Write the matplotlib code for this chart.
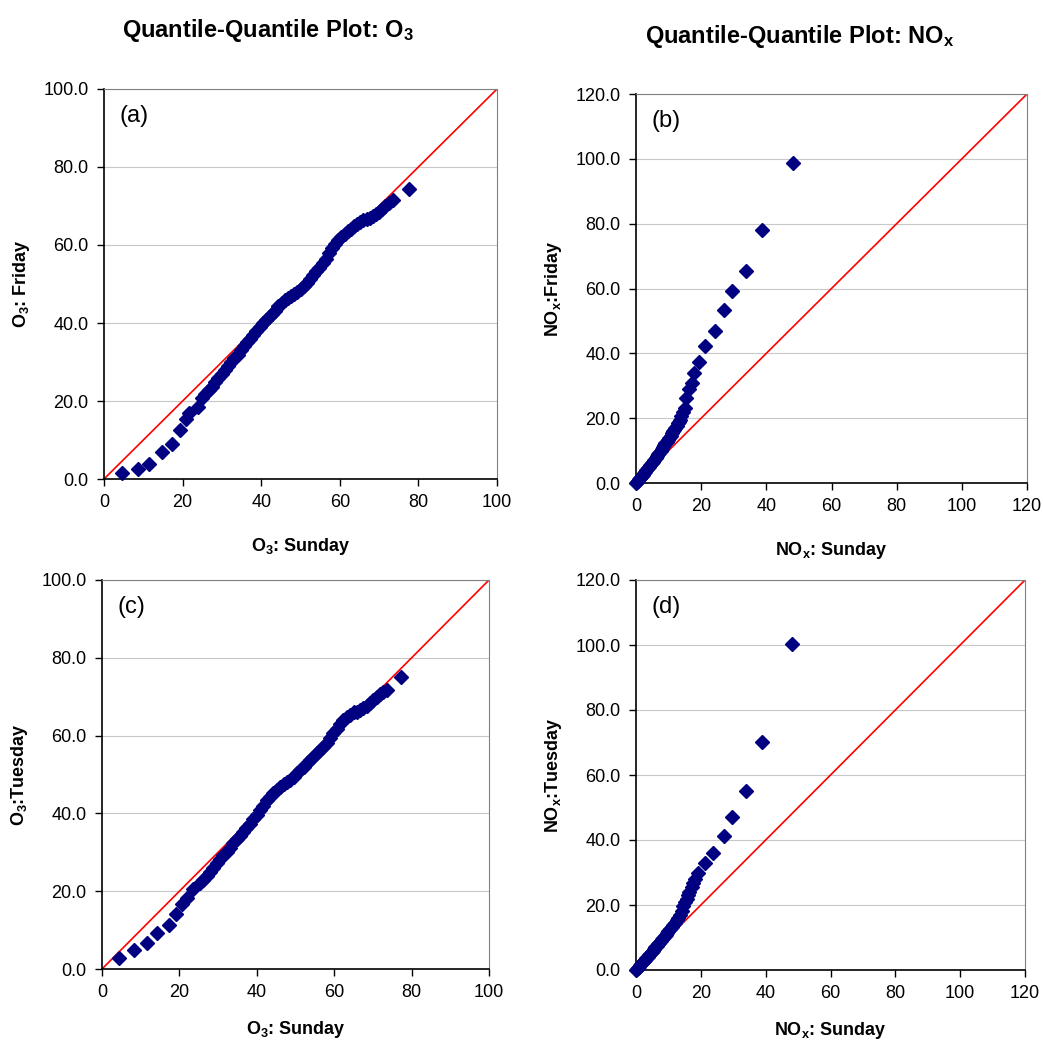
import matplotlib
matplotlib.use('Agg')
import matplotlib.pyplot as plt

plt.rcParams['font.family'] = ['Liberation Sans', 'DejaVu Sans']
plt.rcParams['mathtext.fontset'] = 'custom'
plt.rcParams['mathtext.rm'] = 'Liberation Sans'
plt.rcParams['mathtext.bf'] = 'Liberation Sans:bold'
plt.rcParams['mathtext.default'] = 'bf'

# (a) O3 quantiles: Sunday vs Friday
o3_sun_a = [4.5, 8.6, 11.5, 14.7, 17.2, 19.3, 20.9, 21.7, 23.8, 24.9, 25.8, 26.7, 27.5, 28.3,
            29.1, 30.0, 30.8, 31.6, 32.4, 33.2, 34.0, 34.8, 35.6, 36.4, 37.2, 38.0, 38.8, 39.6,
            40.4, 41.2, 42.0, 42.8, 43.6, 44.4, 45.2, 46.0, 46.8, 47.6, 48.4, 49.2, 50.0, 50.8,
            51.6, 52.4, 53.2, 54.0, 54.8, 55.6, 56.4, 57.2, 58.0, 58.8, 59.6, 60.4, 61.2, 62.0,
            62.8, 63.6, 64.4, 65.2, 66.0, 66.8, 67.6, 68.4, 69.2, 70.0, 70.8, 71.6, 72.4, 73.6,
            77.7]
o3_fri_a = [1.5, 2.6, 3.8, 6.8, 9.0, 12.6, 15.3, 17.0, 18.5, 20.7, 21.8, 22.8, 23.7, 24.8,
            25.8, 26.9, 27.9, 28.9, 29.9, 30.9, 31.9, 33.0, 34.0, 35.0, 36.0, 37.0, 38.0, 39.0,
            40.0, 40.8, 41.5, 42.3, 43.2, 44.3, 45.2, 45.8, 46.3, 47.0, 47.5, 48.0, 48.6, 49.4,
            50.3, 51.3, 52.3, 53.3, 54.2, 55.3, 56.5, 57.9, 59.2, 60.3, 61.3, 62.1, 62.8, 63.5,
            64.2, 64.8, 65.4, 65.9, 66.3, 66.6, 66.9, 67.4, 67.9, 68.4, 69.2, 70.0, 70.8, 71.5,
            74.3]

# (b) NOx quantiles: Sunday vs Friday
nox_sun_b = [0.0, 0.3, 0.6, 0.9, 1.2, 1.5, 1.8, 2.1, 2.4, 2.8, 3.2, 3.6, 4.0, 4.4, 4.8, 5.2,
             5.6, 6.0, 6.4, 6.8, 7.2, 7.6, 7.9, 8.3, 8.7, 9.0, 9.4, 9.8, 10.2, 10.6, 11.0, 11.4,
             11.8, 12.1, 12.5, 12.9, 13.2, 13.5, 13.9, 14.3, 14.9, 15.3, 16.4, 17.1, 17.9, 19.4,
             21.1, 24.3, 27.0, 29.6, 33.7, 38.6, 48.3]
nox_fri_b = [0.0, 0.4, 0.7, 1.1, 1.5, 1.9, 2.2, 2.6, 3.0, 3.5, 4.0, 4.5, 5.0, 5.5, 6.1, 6.6,
             7.2, 7.7, 8.3, 8.8, 9.4, 10.0, 10.5, 11.1, 11.7, 12.2, 12.8, 13.4, 14.0, 14.6, 15.3,
             15.9, 16.5, 17.0, 17.7, 18.4, 18.9, 19.4, 20.6, 22.0, 23.0, 26.1, 28.9, 30.7, 33.8,
             37.2, 42.3, 47.0, 53.4, 59.1, 65.5, 78.0, 98.8]

# (c) O3 quantiles: Sunday vs Tuesday
o3_sun_c = [4.5, 8.3, 11.5, 14.3, 17.3, 19.1, 20.8, 21.9, 23.6, 25.3, 26.2, 27.1, 28.0, 28.8,
            29.6, 30.5, 31.3, 32.2, 33.0, 33.9, 34.8, 35.6, 36.5, 37.3, 38.2, 39.1, 40.0, 40.8,
            41.7, 42.6, 43.4, 44.3, 45.2, 46.0, 46.9, 47.7, 48.6, 49.5, 50.3, 51.2, 52.1, 53.0,
            53.8, 54.6, 55.5, 56.3, 57.2, 58.1, 58.9, 59.8, 60.6, 61.5, 62.4, 63.2, 64.1, 65.0,
            65.8, 66.7, 67.5, 68.4, 69.3, 70.1, 71.0, 71.9, 72.7, 73.6, 77.3]
o3_tue_c = [2.9, 4.9, 6.8, 9.2, 11.3, 14.1, 16.6, 18.3, 20.5, 22.0, 23.0, 24.0, 25.0, 26.0,
            27.2, 28.2, 29.2, 30.2, 31.2, 32.3, 33.3, 34.3, 35.3, 36.3, 37.4, 38.5, 39.6, 40.8,
            42.0, 43.4, 44.3, 45.2, 46.0, 46.8, 47.6, 48.2, 48.6, 49.4, 50.3, 51.2, 52.0, 52.9,
            53.8, 54.6, 55.5, 56.3, 57.1, 58.2, 59.4, 60.6, 61.7, 62.9, 64.0, 64.8, 65.4, 66.0,
            66.1, 66.5, 67.1, 67.7, 68.4, 69.1, 69.8, 70.6, 71.2, 71.7, 75.0]

# (d) NOx quantiles: Sunday vs Tuesday
nox_sun_d = [0.0, 0.3, 0.6, 0.9, 1.2, 1.5, 1.8, 2.1, 2.4, 2.8, 3.2, 3.6, 4.0, 4.4, 4.8, 5.2,
             5.6, 6.0, 6.4, 6.8, 7.2, 7.6, 8.0, 8.4, 8.8, 9.2, 9.6, 10.0, 10.5, 11.0, 11.5,
             12.0, 12.5, 13.0, 13.5, 14.1, 14.6, 15.1, 15.6, 16.0, 16.5, 17.2, 17.7, 18.2, 19.0,
             21.3, 23.8, 27.1, 29.7, 33.8, 38.8, 48.2]
nox_tue_d = [0.0, 0.3, 0.7, 1.0, 1.4, 1.7, 2.1, 2.4, 2.8, 3.2, 3.7, 4.1, 4.6, 5.0, 5.5, 6.0,
             6.5, 7.0, 7.4, 7.9, 8.4, 8.9, 9.4, 9.9, 10.4, 10.9, 11.4, 11.9, 12.6, 13.2, 13.9,
             14.6, 15.4, 16.1, 17.0, 18.3, 19.6, 21.0, 22.0, 23.0, 24.1, 25.4, 26.7, 28.0, 29.8,
             32.9, 36.0, 41.2, 47.0, 55.1, 70.3, 100.3]

W, H = 1043, 1044
fig = plt.figure(figsize=(W / 100, H / 100), dpi=100)


def px_axes(left, top, right, bottom):
    return fig.add_axes([left / W, 1 - bottom / H, (right - left) / W, (bottom - top) / H])


panels = [
    (px_axes(104, 89, 497, 479), o3_sun_a, o3_fri_a, 100, 20, '(a)',
     'O$_3$: Sunday', 'O$_3$: Friday'),
    (px_axes(636, 94, 1027, 483), nox_sun_b, nox_fri_b, 120, 20, '(b)',
     'NO$_x$: Sunday', 'NO$_x$:Friday'),
    (px_axes(102, 580, 489, 969), o3_sun_c, o3_tue_c, 100, 20, '(c)',
     'O$_3$: Sunday', 'O$_3$:Tuesday'),
    (px_axes(636, 580, 1025, 970), nox_sun_d, nox_tue_d, 120, 20, '(d)',
     'NO$_x$: Sunday', 'NO$_x$:Tuesday'),
]

for i, (ax, xs, ys, top, step, tag, xlab, ylab) in enumerate(panels):
    ax.plot([0, top], [0, top], color='red', lw=1.2, zorder=2)
    ax.plot(xs, ys, 'D', color='#000080', ms=7, mec='#000080', zorder=3, clip_on=False)
    ax.set_xlim(0, top)
    ax.set_ylim(0, top)
    ticks = list(range(0, top + 1, step))
    ax.set_xticks(ticks)
    ax.set_yticks(ticks)
    ax.set_xticklabels([str(t) for t in ticks])
    ax.set_yticklabels(['%.1f' % t for t in ticks])
    ax.tick_params(direction='out', length=5, width=1, labelsize=13, pad=6)
    ax.yaxis.grid(True, color='#c8c8c8', lw=0.8)
    ax.set_axisbelow(True)
    ax.spines['top'].set_color('#808080')
    ax.spines['right'].set_color('#808080')
    ax.spines['left'].set_linewidth(1.2)
    ax.spines['bottom'].set_linewidth(1.2)
    ax.set_xlabel(xlab, fontsize=13, fontweight='bold', labelpad=18 if i < 2 else 13)
    ax.set_ylabel(ylab, fontsize=13, fontweight='bold', labelpad=8)
    ax.text(0.04, 0.93, tag, transform=ax.transAxes, fontsize=17, va='center')

fig.text(268 / W, 1 - 30 / H, 'Quantile-Quantile Plot: O$_3$', ha='center', va='center',
         fontsize=17, fontweight='bold')
fig.text(800 / W, 1 - 37 / H, 'Quantile-Quantile Plot: NO$_x$', ha='center', va='center',
         fontsize=17, fontweight='bold')

fig.savefig('out.png', dpi=100)
